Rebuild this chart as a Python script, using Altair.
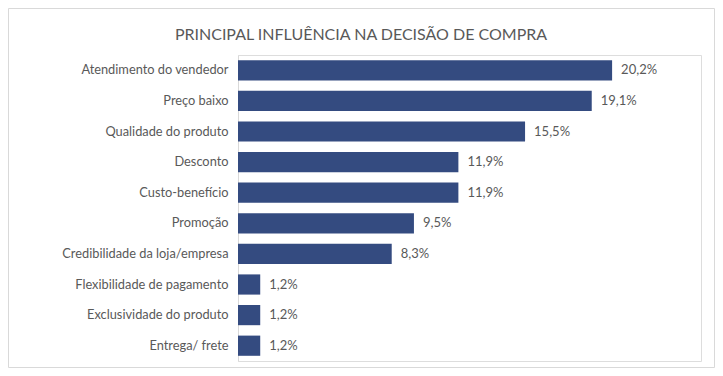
import altair as alt
import pandas as pd

title_text = "PRINCIPAL INFLUÊNCIA NA DECISÃO DE COMPRA"
categories = [
    "Atendimento do vendedor",
    "Preço baixo",
    "Qualidade do produto",
    "Desconto",
    "Custo-benefício",
    "Promoção",
    "Credibilidade da loja/empresa",
    "Flexibilidade de pagamento",
    "Exclusividade do produto",
    "Entrega/ frete",
]
values = [20.2, 19.1, 15.5, 11.9, 11.9, 9.5, 8.3, 1.2, 1.2, 1.2]
labels = [f"{v:.1f}".replace(".", ",") + "%" for v in values]

df = pd.DataFrame({"cat": categories, "val": values, "label": labels})

W, H = 463, 306
PL, PT, PR, PB = 230, 47, 14, 7
GRAY = "#595959"
BAR = "#344B80"

base = alt.Chart(df)

y = alt.Y(
    "cat:N",
    sort=categories,
    scale=alt.Scale(paddingInner=0.34, paddingOuter=0.17),
    axis=alt.Axis(
        title=None,
        ticks=False,
        domainColor="#D9D9D9",
        labelFont="Lato",
        labelFontSize=12.8,
        labelColor=GRAY,
        labelPadding=10,
        labelLimit=300,
    ),
)
x = alt.X("val:Q", scale=alt.Scale(domain=[0, 25]), axis=None)

bars = base.mark_bar(color=BAR).encode(x=x, y=y)
text = base.mark_text(
    align="left", baseline="middle", dx=9, font="Lato", fontSize=13, color=GRAY
).encode(x=x, y=y, text="label:N")

one = alt.Data(values=[{"t": title_text}])

border = alt.Chart(one).mark_rect(
    filled=False, stroke="#D9D9D9", strokeWidth=1
).encode(
    x=alt.value(-PL + 0.5),
    x2=alt.value(W + PR - 0.5),
    y=alt.value(-PT + 0.5),
    y2=alt.value(H + PB - 0.5),
)

title = alt.Chart(one).mark_text(
    align="center", baseline="alphabetic", font="Lato", fontSize=16, color=GRAY
).encode(x=alt.value(123), y=alt.value(-15), text="t:N")

chart = (
    alt.layer(border, title, bars, text)
    .properties(
        width=W,
        height=H,
        padding={"left": PL, "top": PT, "right": PR, "bottom": PB},
        autosize=alt.AutoSizeParams(type="none"),
    )
    .configure_view(stroke=None)
    .configure(background="white")
)

chart.save("out.html", embed_options={"renderer": "svg", "actions": False})
